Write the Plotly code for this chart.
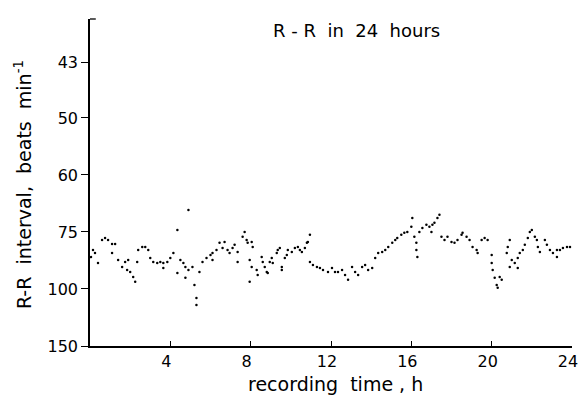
import plotly.graph_objects as go

# Recording time (hours) and R-R interval (ms)
hours = [0.05, 0.15, 0.25, 0.4, 0.6, 0.75, 0.9, 1.1, 1.25, 1.1, 1.4, 1.6, 1.75, 1.9,
         1.85, 2.0, 2.15, 2.25, 2.35, 2.4, 2.6, 2.75, 2.9, 3.0, 3.15, 3.35, 3.5, 3.65,
         3.85, 4.0, 4.15, 3.65, 4.35, 4.35, 4.5, 4.65, 4.75, 4.9, 5.1, 4.75, 4.9, 5.2,
         5.3, 5.3, 5.45, 5.6, 5.8, 6.0, 6.1, 6.1,
         6.3, 6.45, 6.6, 6.7, 6.85, 6.95, 7.1, 7.2, 7.35, 7.35, 7.6, 7.7, 7.8, 7.85,
         8.05, 8.1, 7.95, 8.05, 7.95, 8.3, 8.35, 8.55, 8.6, 8.7, 8.8, 8.85, 8.95, 9.05,
         9.1, 9.3, 9.35, 9.45, 9.55, 9.55, 9.7, 9.8, 9.85, 10.05, 10.2, 10.35, 10.45,
         10.55, 10.7, 10.8, 10.85, 10.95, 10.95, 11.1, 11.3, 11.45, 11.6, 11.85, 12.05,
         12.2, 12.35, 12.55, 12.7, 12.85, 13.05, 13.2, 13.35, 13.55, 13.7, 13.85, 14.05,
         14.2, 14.35, 14.55, 14.7, 14.85, 15.05, 15.2, 15.3, 15.5, 15.65, 15.8,
         16.0, 16.05, 16.15, 16.25, 16.25, 16.3, 16.4, 16.55, 16.75, 16.9, 17.05, 17.15,
         17.3, 17.4, 17.0, 17.5, 17.65, 17.8, 18.0, 18.15, 18.3, 18.5,
         18.55, 18.75, 18.9, 19.05, 19.25, 19.3, 19.5, 19.65, 19.8, 20.0, 20.0, 20.05,
         20.15, 20.25, 20.3, 20.4, 20.5, 20.75, 20.8, 20.9, 20.9, 21.0, 21.15, 21.3,
         21.4, 21.55, 21.65, 21.8, 21.9, 22.0, 21.3, 22.15, 22.25, 22.3, 22.4, 22.65,
         22.75, 22.9, 23.05, 23.25, 23.4, 23.55, 23.75, 23.9, 23.25]

rr_ms = [712, 737, 726, 691, 772, 779, 772, 758, 758, 726, 702, 677, 695, 702,
         667, 660, 642, 625, 695, 737, 747, 747, 737, 709, 695, 691, 695, 691,
         695, 709, 726, 674, 807, 656, 702, 691, 677, 667, 677, 639, 877, 614,
         568, 544, 660, 695, 709, 719, 726, 702,
         737, 762, 744, 765, 737, 726, 744, 755, 730, 695, 783, 800, 772, 762,
         765, 747, 702, 677, 625, 667, 649, 712, 695, 677, 660, 656, 695, 709,
         691, 726, 737, 744, 677, 667, 709, 719, 737, 730, 744, 747, 737,
         730, 744, 762, 765, 790, 695, 684, 677, 674, 667, 660, 674,
         660, 660, 667, 649, 632, 677, 660, 649, 677, 684, 667, 674,
         709, 726, 730, 737, 747, 762, 772, 779, 790, 797, 800,
         818, 849, 783, 762, 737, 712, 800, 814, 825, 818, 825, 832,
         849, 860, 800, 783, 772, 783, 765, 762, 772, 790,
         797, 783, 772, 747, 737, 726, 772, 779, 772, 719, 691, 667,
         639, 614, 604, 642, 632, 726, 747, 772, 677, 702, 691, 709,
         726, 737, 755, 779, 800, 807, 674, 783, 772, 747, 730, 772,
         755, 737, 726, 737, 737, 744, 747, 747, 712]

# Tick labels (beats per minute) and their R-R interval positions (ms)
bpm_labels = ["150", "100", "75", "60", "50", "43"]
bpm_tick_ms = [400, 600, 800, 1000, 1200, 1395]
hour_ticks = [4, 8, 12, 16, 20, 24]

FONT = "DejaVu Sans"

fig = go.Figure()
fig.add_trace(go.Scatter(
    x=hours, y=rr_ms, mode="markers",
    marker=dict(color="black", size=2.5),
    hoverinfo="skip", showlegend=False,
))

fig.update_layout(
    width=571, height=389,
    margin=dict(l=82, r=7, t=11, b=51),
    paper_bgcolor="white", plot_bgcolor="white",
    font=dict(family=FONT, size=16, color="black"),
    xaxis=dict(
        range=[0, 24], tickvals=hour_ticks, ticktext=[str(t) for t in hour_ticks],
        ticks="inside", ticklen=5, tickwidth=1.3, tickcolor="black",
        showline=True, linecolor="black", linewidth=1.6,
        showgrid=False, zeroline=False, ticklabeloverflow="allow",
        ticklabelshift=-4, automargin=False,
        tickfont=dict(family=FONT, size=16),
    ),
    yaxis=dict(
        range=[400, 1547], tickvals=bpm_tick_ms, ticktext=bpm_labels,
        ticks="outside", ticklen=7, tickwidth=1.3, tickcolor="black",
        showline=True, linecolor="black", linewidth=1.6,
        showgrid=False, zeroline=False, automargin=False,
        tickfont=dict(family=FONT, size=16),
    ),
    shapes=[dict(type="line", xref="paper", yref="paper",
                 x0=0, x1=0.012, y0=1, y1=1,
                 line=dict(color="black", width=1.3))],
    annotations=[
        dict(text="R - R  in  24  hours", xref="paper", yref="paper",
             x=0.552, y=0.966, showarrow=False, xanchor="center", yanchor="middle",
             font=dict(family=FONT, size=18)),
        dict(text="recording  time , h", xref="paper", yref="paper",
             x=0.51, y=-0.116, showarrow=False, xanchor="center", yanchor="middle",
             font=dict(family=FONT, size=19)),
        dict(text="R-R  interval,  beats  min<sup>-1</sup>", xref="paper", yref="paper",
             x=-0.139, y=0.492, showarrow=False, xanchor="center", yanchor="middle",
             textangle=-90, font=dict(family=FONT, size=19)),
    ],
)

fig.write_html("out.html")
